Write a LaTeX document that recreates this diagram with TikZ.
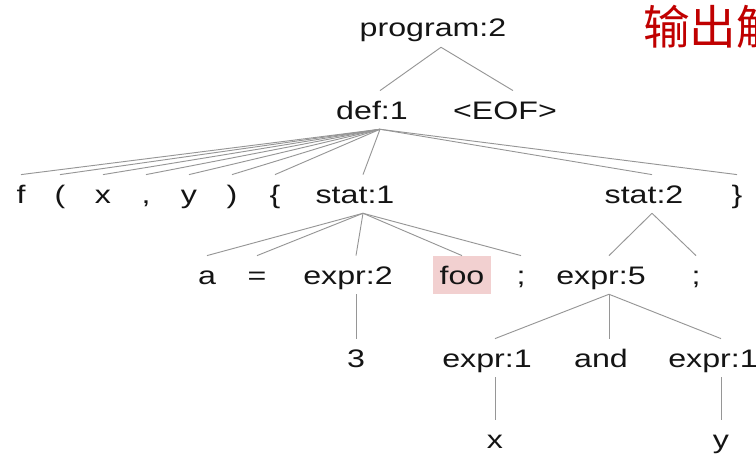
\documentclass[tikz,border=0pt]{standalone}
\usepackage{fontspec}
\usepackage{tikz}
\usetikzlibrary{positioning}
\setmainfont{Liberation Sans}
\newfontfamily\treefont{Liberation Sans}[FakeStretch=1.27]
\newfontfamily\cjk{Noto Sans CJK SC}
\definecolor{treetext}{RGB}{20,20,20}
\definecolor{treeline}{RGB}{150,150,150}
\definecolor{hlpink}{RGB}{242,208,208}
\definecolor{titlered}{RGB}{192,0,0}

\begin{document}
\begin{tikzpicture}[x=0.75pt, y=-0.75pt,
    tok/.style={anchor=base, text=treetext, font=\treefont\fontsize{19}{22}\selectfont,
        text height=13.6pt, text depth=0pt, inner xsep=5pt, inner ysep=7.5pt},
    word/.style={tok, execute at end node={\hspace*{12pt}}},
    edge/.style={draw=treeline, line width=0.7pt}]
    \useasboundingbox (0,0) rectangle (756,453);
    \clip (0,0) rectangle (756,453);

    % 标题
    \node[anchor=base west, inner sep=0pt, text=titlered, font=\cjk\fontsize{35}{40}\selectfont] (title) at (643,45) {输出解};

    % 根
    \node[word] (prog) at (441,37) {program:2};

    % 第一层
    \node[word] (def) at (380,119) {def:1};
    \node[word] (eof) at (513,119) {<EOF>};
    \draw[edge] (prog.south) -- (def.north);
    \draw[edge] (prog.south) -- (eof.north);

    % 第二层
    \node[tok]  (f)     at (21,203)  {f};
    \node[tok]  (lp)    at (60,203)  {(};
    \node[tok]  (xa)    at (103,203) {x};
    \node[tok]  (cm)    at (146,203) {,};
    \node[tok]  (ya)    at (189,203) {y};
    \node[tok]  (rp)    at (232,203) {)};
    \node[tok]  (lb)    at (275,203) {\{};
    \node[word] (statA) at (363,203) {stat:1};
    \node[word] (statB) at (652,203) {stat:2};
    \node[tok]  (rb)    at (737,203) {\}};
    \foreach \c in {f,lp,xa,cm,ya,rp,lb,statA,statB,rb}
        \draw[edge] (def.south) -- (\c.north);

    % 第三层
    \node[tok]  (a)     at (207,284) {a};
    \node[tok]  (eq)    at (257,284) {=};
    \node[word] (exprB) at (356,284) {expr:2};
    \node[tok, fill=hlpink] (foo) at (462,284) {foo};
    \node[tok]  (semiA) at (521,284) {;};
    \node[word] (exprE) at (609,284) {expr:5};
    \node[tok]  (semiB) at (696,284) {;};
    \foreach \c in {a,eq,exprB,foo,semiA}
        \draw[edge] (statA.south) -- (\c.north);
    \draw[edge] (statB.south) -- (exprE.north);
    \draw[edge] (statB.south) -- (semiB.north);

    % 第四层
    \node[tok]  (three) at (356,367) {3};
    \node[word] (exprA) at (495,367) {expr:1};
    \node[word] (and)   at (609,367) {and};
    \node[word] (exprC) at (721,367) {expr:1};
    \draw[edge] (exprB.south) -- (three.north);
    \foreach \c in {exprA,and,exprC}
        \draw[edge] (exprE.south) -- (\c.north);

    % 叶子
    \node[tok] (xb) at (495,448) {x};
    \node[tok] (yb) at (721,448) {y};
    \draw[edge] (exprA.south) -- (xb.north);
    \draw[edge] (exprC.south) -- (yb.north);
\end{tikzpicture}
\end{document}
